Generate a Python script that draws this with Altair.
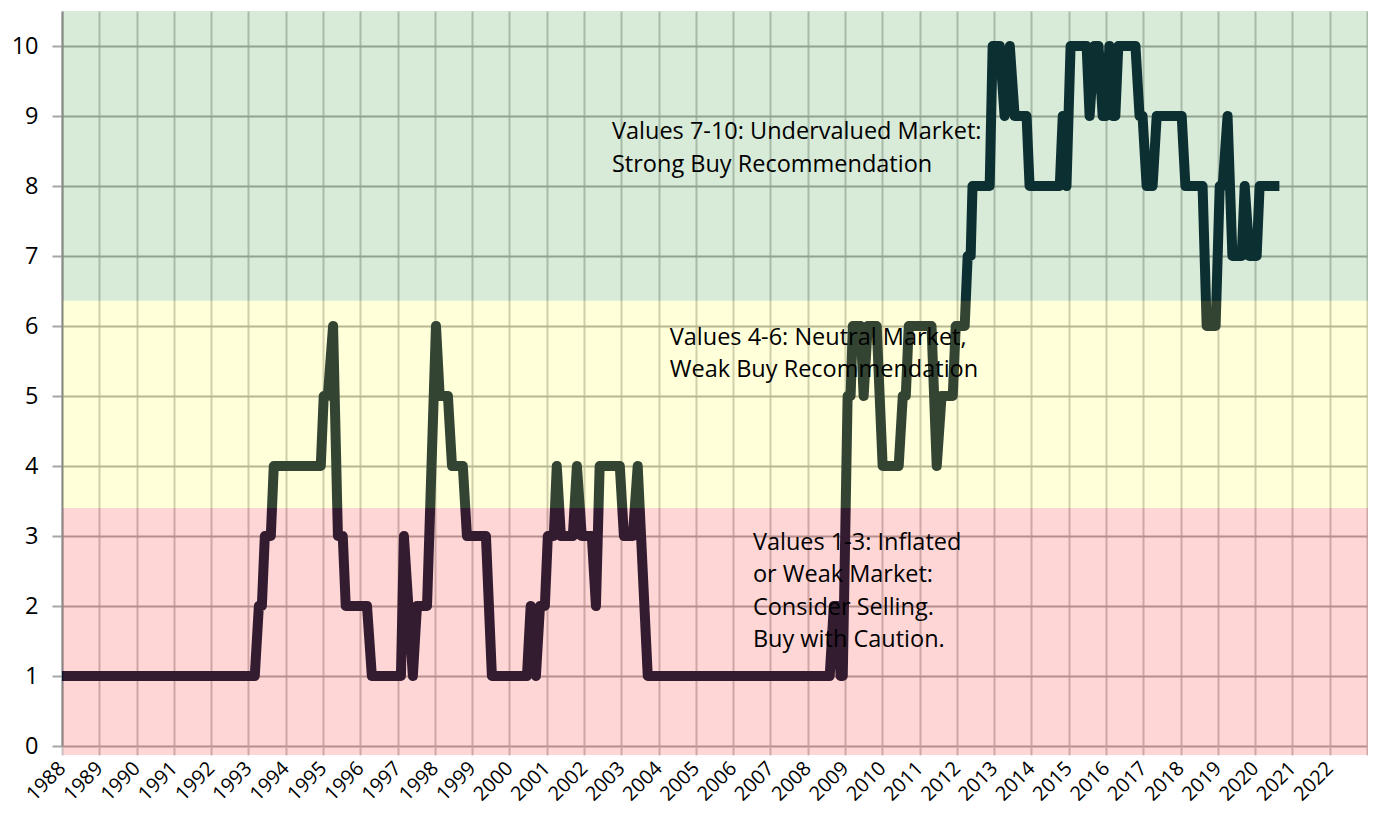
import altair as alt
import pandas as pd

# Market score readings (decimal year, score 0-10)
years = [
    1988.00, 1993.17, 1993.28, 1993.36, 1993.44, 1993.60, 1993.68, 1994.94, 1995.02, 1995.13,
    1995.27, 1995.40, 1995.53, 1995.61, 1996.18, 1996.31, 1997.09, 1997.17, 1997.41, 1997.52,
    1997.79, 1998.03, 1998.13, 1998.35, 1998.46, 1998.75, 1998.86, 1999.37, 1999.53, 2000.47,
    2000.57, 2000.71, 2000.82, 2000.95, 2001.03, 2001.19, 2001.27, 2001.38, 2001.70, 2001.81,
    2001.94, 2002.21, 2002.32, 2002.42, 2002.96, 2003.07, 2003.31, 2003.44, 2003.71, 2008.59,
    2008.70, 2008.80, 2008.88, 2008.94, 2009.07, 2009.15, 2009.21, 2009.42, 2009.50, 2009.61,
    2009.85, 2010.01, 2010.44, 2010.55, 2010.63, 2010.71, 2011.32, 2011.46, 2011.59, 2011.89,
    2011.97, 2012.21, 2012.29, 2012.37, 2012.42, 2012.88, 2012.96, 2013.15, 2013.28, 2013.42,
    2013.55, 2013.87, 2013.95, 2014.76, 2014.84, 2014.94, 2015.05, 2015.48, 2015.56, 2015.69,
    2015.80, 2015.91, 2016.01, 2016.09, 2016.17, 2016.25, 2016.33, 2016.79, 2016.90, 2016.98,
    2017.09, 2017.25, 2017.36, 2018.03, 2018.13, 2018.59, 2018.70, 2018.94, 2019.05, 2019.13,
    2019.26, 2019.39, 2019.64, 2019.72, 2019.85, 2020.04, 2020.12, 2020.65,
]
scores = [
    1, 1, 2, 2, 3, 3, 4, 4, 5, 5,
    6, 3, 3, 2, 2, 1, 1, 3, 1, 2,
    2, 6, 5, 5, 4, 4, 3, 3, 1, 1,
    2, 1, 2, 2, 3, 3, 4, 3, 3, 4,
    3, 3, 2, 4, 4, 3, 3, 4, 1, 1,
    2, 2, 1, 1, 5, 5, 6, 6, 5, 6,
    6, 4, 4, 5, 5, 6, 6, 4, 5, 5,
    6, 6, 7, 7, 8, 8, 10, 10, 9, 10,
    9, 9, 8, 8, 9, 8, 10, 10, 9, 10,
    10, 9, 9, 10, 9, 9, 10, 10, 9, 9,
    8, 8, 9, 9, 8, 8, 6, 6, 8, 8,
    9, 7, 7, 8, 7, 7, 8, 8,
]

band_names = ["Inflated", "Neutral", "Undervalued"]
band_low = [-0.13, 3.4, 6.36]
band_high = [3.4, 6.36, 10.5]
band_colors = ["#ff3232", "#ffff41", "#3c963c"]
band_start = [1988.03, 1988.03, 1988.03]
band_end = [2023.3, 2023.3, 2023.3]

tick_years = list(range(1988, 2024))
score_ticks = list(range(0, 11))

note_green = ["Values 7-10: Undervalued Market:", "Strong Buy Recommendation"]
note_yellow = ["Values 4-6: Neutral Market,", "Weak Buy Recommendation"]
note_red = ["Values 1-3: Inflated", "or Weak Market:", "Consider Selling.", "Buy with Caution."]

FONT = "Open Sans"
FS = 23.5
XFS = 20

line_df = pd.DataFrame({"year": years, "score": scores})
band_df = pd.DataFrame({"band": band_names, "lo": band_low, "hi": band_high,
                        "x0": band_start, "x1": band_end})

xscale = alt.Scale(domain=[1988, 2023], nice=False, zero=False)
yscale = alt.Scale(domain=[0, 10.5], nice=False, zero=False)

x_axis = alt.Axis(values=tick_years, title=None, grid=True, gridColor="#c4c4c4", gridWidth=2,
                  tickColor="#c4c4c4", tickWidth=2, tickSize=9, domain=False,
                  labelAngle=-45, labelAlign="right", labelBaseline="middle",
                  labelFontSize=XFS, labelFont=FONT, labelColor="#000", labelPadding=10,
                  labelOverlap=False, labelFlush=False, format="d",
                  labelExpr="datum.value >= 2023 ? '' : datum.label")
y_axis = alt.Axis(values=score_ticks, title=None, grid=True, gridColor="#a6a6a6", gridWidth=2,
                  tickColor="#a6a6a6", tickWidth=2, tickSize=10, domainColor="#898989",
                  domainWidth=2, labelFontSize=FS, labelFont=FONT, labelColor="#000",
                  labelPadding=14, labelOverlap=False, labelFlush=False, format="d")

line = alt.Chart(line_df).mark_line(color="#001630", strokeWidth=10, strokeJoin="round",
                                    strokeCap="butt").encode(
    x=alt.X("year:Q", scale=xscale, axis=x_axis),
    y=alt.Y("score:Q", scale=yscale, axis=y_axis),
)

bands = alt.Chart(band_df).mark_rect(opacity=0.2).encode(
    x=alt.X("x0:Q", scale=xscale, axis=x_axis),
    x2="x1",
    y=alt.Y("lo:Q", scale=yscale, axis=y_axis),
    y2="hi",
    color=alt.Color("band:N", scale=alt.Scale(domain=band_names, range=band_colors), legend=None),
)


def note(lines, xv, yv):
    return alt.Chart(pd.DataFrame({"k": [0]})).mark_text(
        align="left", baseline="alphabetic", font=FONT, fontSize=FS, lineHeight=32.3, color="#000"
    ).encode(
        x=alt.XDatum(xv, type="quantitative", scale=xscale, axis=x_axis),
        y=alt.YDatum(yv, type="quantitative", scale=yscale, axis=y_axis),
        text=alt.value(lines),
    )


chart = alt.layer(
    line, bands,
    note(note_green, 2002.75, 8.667),
    note(note_yellow, 2004.30, 5.729),
    note(note_red, 2006.53, 2.80),
).properties(
    width=1305, height=735,
    autosize=alt.AutoSizeParams(type="none"),
    padding={"left": 54, "top": 3, "right": 1, "bottom": 62},
).configure_view(stroke=None)

chart.save("out.html", embed_options={"renderer": "svg", "actions": False})
